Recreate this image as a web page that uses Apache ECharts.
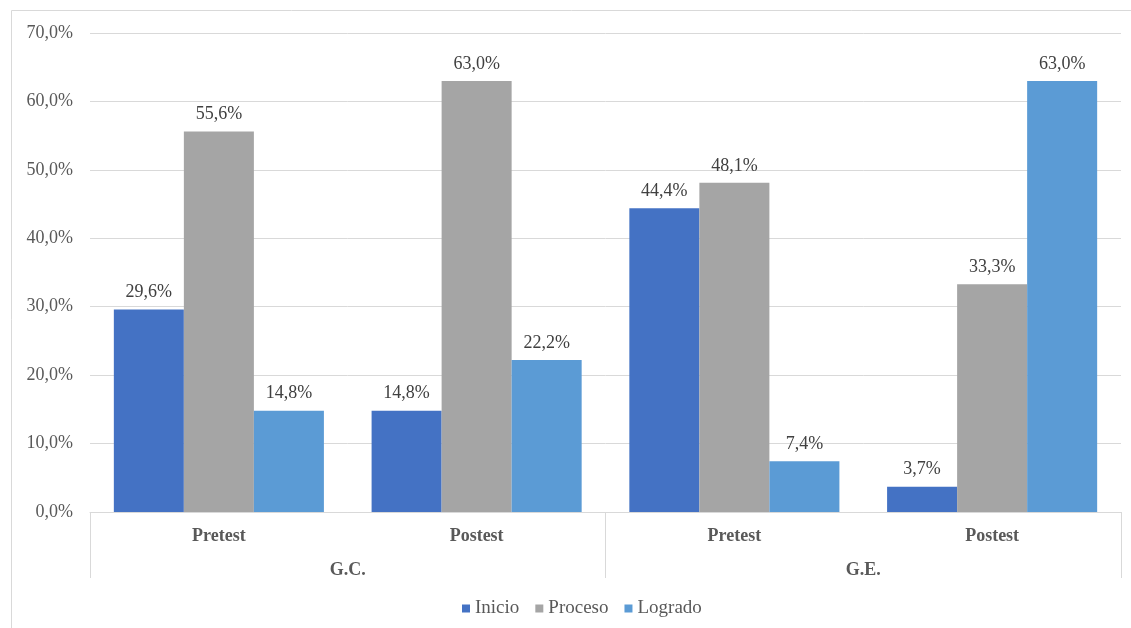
<!DOCTYPE html>
<html>
<head>
<meta charset="utf-8">
<script src="https://cdn.jsdelivr.net/npm/echarts@6/dist/echarts.min.js"></script>
<style>html,body{margin:0;padding:0;background:#fff}#c{width:1131px;height:628px}</style>
</head>
<body>
<div id="c"></div>
<script>
const categories = ['Pretest', 'Postest', 'Pretest', 'Postest'];
const groups = ['G.C.', 'G.E.'];
const seriesNames = ['Inicio', 'Proceso', 'Logrado'];
const inicio = [29.6, 14.8, 44.4, 3.7];
const proceso = [55.6, 63.0, 48.1, 33.3];
const logrado = [14.8, 22.2, 7.4, 63.0];
const colors = ['#4472C4', '#A5A5A5', '#5B9BD5'];

const font = '"Liberation Serif", "Times New Roman", serif';
const fmt = v => v.toFixed(1).replace('.', ',') + '%';

const chart = echarts.init(document.getElementById('c'));
const mk = (name, data, color) => ({
  name, type: 'bar', data, xAxisIndex: 0, barGap: 0, barCategoryGap: '18.5%',
  itemStyle: { color },
  label: { show: true, position: 'top', distance: 8, fontFamily: font, fontSize: 18, color: '#404040',
           formatter: p => fmt(p.value) }
});
chart.setOption({
  animation: false,
  textStyle: { fontFamily: font },
  graphic: [{ type: 'rect', shape: { x: 11.5, y: 10.5, width: 1140, height: 640 },
              style: { fill: 'none', stroke: '#d9d9d9', lineWidth: 1 }, silent: true }],
  grid: { left: 90, right: 10, top: 33, bottom: 116 },
  legend: {
    data: seriesNames, bottom: 10, left: 462, padding: 0, itemWidth: 8, itemHeight: 8, itemGap: 16,
    icon: 'rect', textStyle: { fontFamily: font, fontSize: 19, color: '#595959', padding: [0, 0, 0, 0] }
  },
  xAxis: [
    { type: 'category', data: categories, position: 'bottom',
      axisLine: { lineStyle: { color: '#d9d9d9', width: 1 } }, axisTick: { show: false },
      axisLabel: { fontFamily: font, fontSize: 18, fontWeight: 'bold', color: '#595959', margin: 15 } },
    { type: 'category', data: groups, position: 'bottom',
      axisLine: { show: false },
      axisTick: { show: true, length: 66, lineStyle: { color: '#d9d9d9', width: 1 } },
      axisLabel: { fontFamily: font, fontSize: 18, fontWeight: 'bold', color: '#595959', margin: 49 } }
  ],
  yAxis: {
    type: 'value', min: 0, max: 70, interval: 10,
    axisLine: { show: false }, axisTick: { show: false },
    splitLine: { lineStyle: { color: '#d9d9d9', width: 1 } },
    axisLabel: { fontFamily: font, fontSize: 18, color: '#595959', margin: 17, formatter: v => fmt(v) }
  },
  series: [mk(seriesNames[0], inicio, colors[0]), mk(seriesNames[1], proceso, colors[1]), mk(seriesNames[2], logrado, colors[2])]
});
</script>
</body>
</html>
